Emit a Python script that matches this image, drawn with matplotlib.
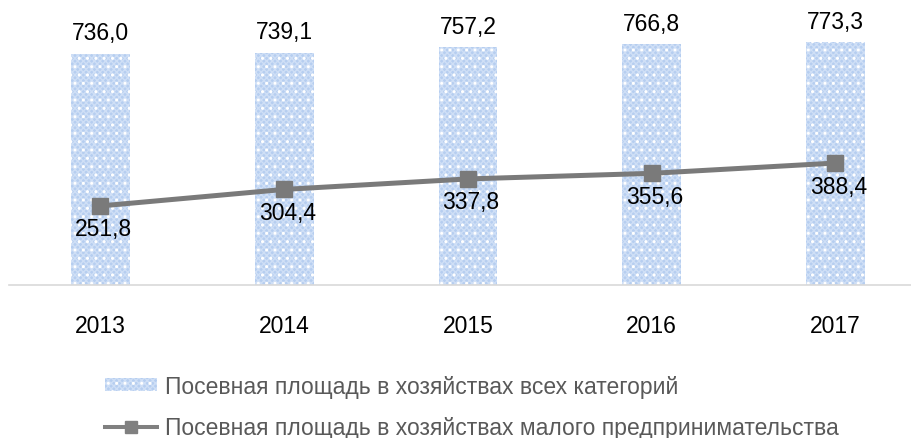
import matplotlib
matplotlib.use("Agg")
import matplotlib.pyplot as plt
from matplotlib.patches import Patch
from matplotlib.lines import Line2D
from matplotlib.legend_handler import HandlerTuple

years = ["2013", "2014", "2015", "2016", "2017"]
all_categories = [736.0, 739.1, 757.2, 766.8, 773.3]
small_business = [251.8, 304.4, 337.8, 355.6, 388.4]
label_all = "Посевная площадь в хозяйствах всех категорий"
label_small = "Посевная площадь в хозяйствах малого предпринимательства"

def fmt(v):
    return f"{v:.1f}".replace(".", ",")

plt.rcParams['font.family'] = ['Liberation Sans', 'DejaVu Sans']
plt.rcParams['hatch.linewidth'] = 1.0

W, H = 912, 439
fig = plt.figure(figsize=(W / 100, H / 100), dpi=100)
ax = fig.add_axes([8.6 / W, (H - 286) / H, 918.75 / W, 282.6 / H])

x = list(range(len(years)))
bar_color = '#b6cef0'
check_color = '#cfdff6'
line_color = '#7a7a7a'
ax.bar(x, all_categories, width=0.32, color=bar_color, hatch='xxxxxx',
       edgecolor=check_color, linewidth=0)
ax.bar(x, all_categories, width=0.32, color='none', hatch='..',
       edgecolor='white', linewidth=0)
ax.plot(x, small_business, color=line_color, lw=3.6, marker='s', ms=12,
        mfc=line_color, mec=line_color, zorder=3)

fs = 16.5
for xi, v in zip(x, all_categories):
    ax.annotate(fmt(v), (xi, v), xytext=(0, 21), textcoords='offset pixels',
                ha='center', va='center', fontsize=fs, color='black')
for xi, v in zip(x, small_business):
    ax.annotate(fmt(v), (xi, v), xytext=(3, -23), textcoords='offset pixels',
                ha='center', va='center', fontsize=fs, color='black')

ax.set_xlim(-0.5, len(years) - 0.5)
ax.set_ylim(0, 900)
ax.set_xticks(x)
ax.set_xticklabels(years, fontsize=fs)
ax.tick_params(axis='x', length=0, pad=21)
ax.set_yticks([])
for s in ['top', 'right', 'left']:
    ax.spines[s].set_visible(False)
ax.spines['bottom'].set_color('#d9d9d9')
ax.spines['bottom'].set_linewidth(1.2)

h_bar = (Patch(facecolor=bar_color, hatch='xxxxxx', edgecolor=check_color, linewidth=0),
         Patch(facecolor='none', hatch='..', edgecolor='white', linewidth=0))
h_line = Line2D([0], [0], color='#808080', lw=2.9, marker='s', ms=8,
                mfc='#808080', mec='#808080')
leg = fig.legend([h_bar, h_line], [label_all, label_small], loc='upper left',
                 bbox_to_anchor=(105 / W, 1 - 376 / H), frameon=False,
                 fontsize=fs, labelcolor='#595959', handlelength=2.27,
                 handleheight=0.5, handletextpad=0.35, labelspacing=0.78,
                 borderpad=0, borderaxespad=0,
                 handler_map={tuple: HandlerTuple(ndivide=1, pad=0)})

fig.savefig("out.png", dpi=100)
